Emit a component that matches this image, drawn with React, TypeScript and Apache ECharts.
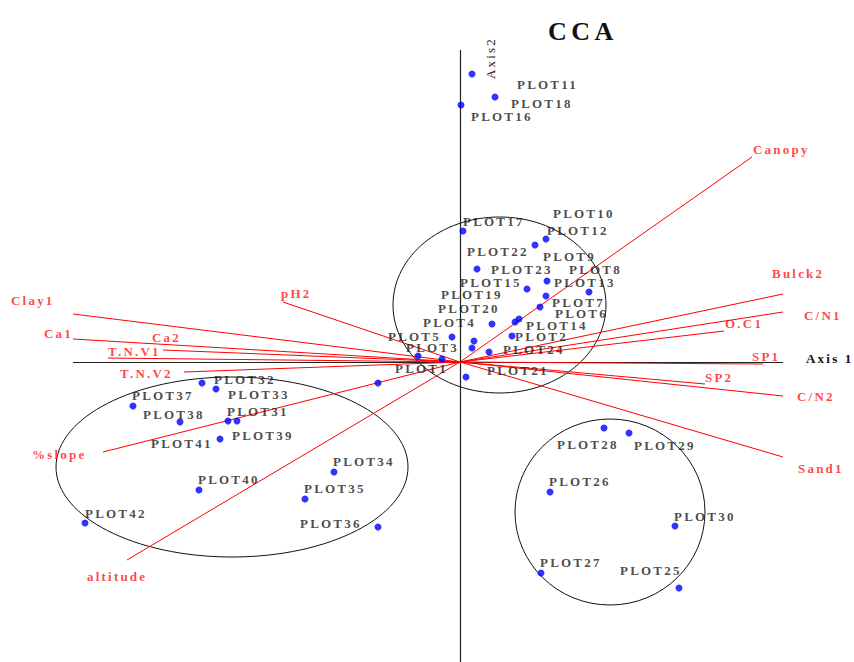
import React, { useEffect, useRef } from "react";
import * as echarts from "echarts";

// Site scores (points)
const plotNames = [
  "PLOT11", "PLOT18", "PLOT16", "PLOT17", "PLOT10", "PLOT12", "PLOT22", "PLOT23", "PLOT9", "PLOT8",
  "PLOT13", "PLOT15", "PLOT19", "PLOT7", "PLOT6", "PLOT20", "PLOT4", "PLOT14", "PLOT5", "PLOT2",
  "PLOT3", "PLOT24", "PLOT1", "PLOT21",
  "PLOT32", "PLOT33", "PLOT37", "PLOT38", "PLOT31", "PLOT39", "PLOT41", "PLOT34", "PLOT40", "PLOT35",
  "PLOT42", "PLOT36",
  "PLOT28", "PLOT29", "PLOT26", "PLOT30", "PLOT27", "PLOT25",
];
const siteX = [
  0.12, 0.35, 0.01, 0.03, 0.86, 0.75, 0.17, 0.67, 0.87, 1.29,
  0.86, 0.8, 0.32, 0.59, 0.55, 0.14, -0.08, 0.52, -0.42, 0.29,
  0.12, 0.06, -0.18, -0.82,
  -2.58, -2.44, -3.27, -2.8, -2.23, -2.32, -2.4, -1.26, -2.61, -1.55,
  -3.75, -0.82,
  1.44, 1.69, 0.9, 2.15, 0.81, 2.19,
];
const siteY = [
  2.88, 2.65, 2.57, 1.31, 1.23, 1.17, 0.93, 0.73, 0.81, 0.7,
  0.66, 0.55, 0.38, 0.43, 0.4, 0.21, 0.25, 0.26, 0.06, 0.1,
  0.14, -0.15, 0.03, -0.21,
  -0.21, -0.27, -0.44, -0.6, -0.59, -0.59, -0.77, -1.1, -1.28, -1.37,
  -1.61, -1.65,
  -0.66, -0.71, -1.3, -1.64, -2.11, -2.26,
];
// Site label scores (text anchors)
const labelX = [
  0.57, 0.51, 0.11, 0.03, 0.93, 0.87, 0.07, 0.31, 0.83, 1.09,
  0.94, 0.0, -0.19, 0.92, 0.95, -0.22, -0.37, 0.66, -0.72, 0.55,
  -0.54, 0.43, -0.65, 0.27,
  -2.46, -2.32, -3.28, -3.17, -2.33, -2.28, -3.09, -1.27, -2.62, -1.56,
  -3.75, -1.6,
  0.97, 1.74, 0.89, 2.14, 0.8, 1.6,
];
const labelY = [
  2.78, 2.59, 2.46, 1.41, 1.49, 1.32, 1.11, 0.93, 1.06, 0.93,
  0.8, 0.8, 0.68, 0.6, 0.49, 0.54, 0.4, 0.37, 0.26, 0.26,
  0.15, 0.13, -0.06, -0.08,
  -0.17, -0.32, -0.33, -0.52, -0.49, -0.73, -0.81, -0.99, -1.17, -1.26,
  -1.51, -1.61,
  -0.82, -0.83, -1.19, -1.54, -2.0, -2.08,
];

// Environmental vectors (biplot arrows)
const envNames = [
  "Canopy", "Bulck2", "C/N1", "O.C1", "SP1", "SP2", "C/N2", "Sand1",
  "Clay1", "Ca1", "Ca2", "T.N.V1", "T.N.V2", "pH2", "%slope", "altitude",
];
const envX = [2.92, 3.23, 3.23, 2.64, 3.03, 2.45, 3.23, 3.23, -3.87, -3.87, -2.97, -3.52, -2.76, -1.77, -3.57, -3.33];
const envY = [2.05, 0.68, 0.5, 0.31, -0.02, -0.22, -0.34, -0.95, 0.48, 0.23, 0.12, 0.04, -0.1, 0.6, -0.9, -1.98];
const envLabelX = [2.93, 3.12, 3.44, 2.65, 2.92, 2.45, 3.37, 3.38, -4.49, -4.16, -3.08, -3.52, -3.4, -1.79, -4.28, -3.73];
const envLabelY = [2.13, 0.89, 0.47, 0.39, 0.06, -0.15, -0.34, -1.06, 0.62, 0.29, 0.25, 0.11, -0.11, 0.69, -0.92, -2.14];

// Group ellipses: centre x, centre y, radius x, radius y
const ellipseCX = [0.395, -2.28, 1.5];
const ellipseCY = [0.57, -1.05, -1.5];
const ellipseRX = [1.065, 1.76, 0.95];
const ellipseRY = [0.88, 0.9, 0.93];

// Axis extents
const axis1Range = [-3.87, 3.23];
const axis2Range = [-3.0, 3.12];

const FONT = "'Liberation Serif', 'Times New Roman', serif";

export default function App() {
  const ref = useRef<HTMLDivElement>(null);

  useEffect(() => {
    if (!ref.current) return;
    const chart = echarts.init(ref.current, undefined, { renderer: "svg" });

    const sites = siteX.map((x, i) => ({ name: plotNames[i], value: [x, siteY[i]] }));
    const siteLabels = labelX.map((x, i) => ({ name: plotNames[i], value: [x, labelY[i]] }));
    const vectors = envX.map((x, i) => ({ coords: [[0, 0], [x, envY[i]]] }));
    const envLabels = envLabelX.map((x, i) => ({ name: envNames[i], value: [x, envLabelY[i]] }));
    const ellipses = ellipseCX.map((x, i) => [x, ellipseCY[i], ellipseRX[i], ellipseRY[i]]);

    const option: any = {
      animation: false,
      title: {
        text: "CCA",
        left: 543,
        top: 13,
        textStyle: { fontFamily: FONT, fontSize: 26, fontWeight: "bold", color: "#111" },
      },
      grid: { left: 0, right: 0, top: 0, bottom: 0 },
      xAxis: { type: "value", min: -4.6, max: 3.94, show: false },
      yAxis: { type: "value", min: -3.0, max: 3.62, show: false },
      graphic: [
        {
          type: "text",
          x: 806,
          y: 358,
          style: { text: "Axis 1", font: `bold 13px ${FONT}`, fill: "#111", textAlign: "left", textVerticalAlign: "middle" },
          z: 100,
        },
        {
          type: "text",
          x: 490,
          y: 58,
          rotation: Math.PI / 2,
          style: { text: "Axis2", font: `13px ${FONT}`, fill: "#222", textAlign: "center", textVerticalAlign: "middle" },
          z: 100,
        },
      ],
      series: [
        {
          type: "custom",
          coordinateSystem: "cartesian2d",
          data: ellipses,
          silent: true,
          z: 1,
          renderItem: (params: any, api: any) => {
            const c = api.coord([api.value(0), api.value(1)]);
            const s = api.size([api.value(2), api.value(3)]);
            return {
              type: "ellipse",
              shape: { cx: c[0], cy: c[1], rx: s[0], ry: s[1] },
              style: { fill: "none", stroke: "#111", lineWidth: 1 },
            };
          },
        },
        {
          type: "lines",
          coordinateSystem: "cartesian2d",
          silent: true,
          z: 2,
          lineStyle: { color: "#222", width: 1.2, opacity: 1 },
          data: [
            { coords: [[axis1Range[0], 0], [axis1Range[1], 0]] },
            { coords: [[0, axis2Range[1]], [0, axis2Range[0]]] },
          ],
        },
        {
          type: "lines",
          coordinateSystem: "cartesian2d",
          silent: true,
          z: 3,
          lineStyle: { color: "#ff0000", width: 1, opacity: 1 },
          data: vectors,
        },
        {
          type: "scatter",
          data: sites,
          symbol: "circle",
          symbolSize: 7,
          itemStyle: { color: "#0000ff" },
          z: 4,
        },
        {
          type: "scatter",
          data: siteLabels,
          symbolSize: 0,
          z: 5,
          label: {
            show: true,
            position: "right",
            distance: 0,
            formatter: "{b}",
            fontFamily: FONT,
            fontSize: 13,
            fontWeight: "bold",
            color: "#1a1a1a",
          },
        },
        {
          type: "scatter",
          data: envLabels,
          symbolSize: 0,
          z: 5,
          label: {
            show: true,
            position: "right",
            distance: 0,
            formatter: "{b}",
            fontFamily: FONT,
            fontSize: 13,
            fontWeight: "bold",
            color: "#ff1414",
          },
        },
      ],
    };

    chart.setOption(option);
    return () => chart.dispose();
  }, []);

  return (
    <>
      <style>{".cca-chart text { letter-spacing: 0.17em; }"}</style>
      <div
        ref={ref}
        className="cca-chart"
        style={{ position: "absolute", left: 0, top: 0, width: 854, height: 662, background: "#fff" }}
      />
    </>
  );
}
